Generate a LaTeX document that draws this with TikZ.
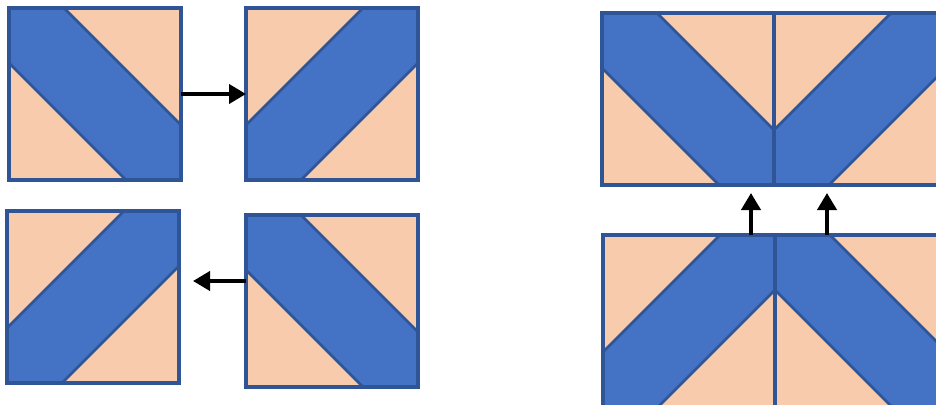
\documentclass[tikz,border=0pt]{standalone}
\usepackage{tikz}
\usetikzlibrary{arrows.meta,calc}
\definecolor{tileBlue}{HTML}{4472C4}
\definecolor{tileEdge}{HTML}{2F5597}
\definecolor{tilePeach}{HTML}{F8CBAD}
\tikzset{
  tile/.style={draw=tileEdge,fill=tilePeach,line width=3pt,minimum size=172pt,
               inner sep=0pt,outer sep=0pt},
  band/.style={fill=tileBlue,draw=tileEdge,line width=2.5pt,line join=round},
  arr/.style={line width=4pt,-{Triangle[length=17pt,width=19pt]}},
}
% #1 name, #2 left, #3 top, #4 0 = band falls to the right, 1 = band rises
\newcommand{\qtile}[4]{%
  \node[tile] (#1) at ({#2+86},{#3+86}) {};
  \begin{scope}[shift={(#1.north west)}]
    \ifnum#4=0
      \draw[band] (0,0) -- (55,0) -- (172,117) -- (172,172) -- (117,172) -- (0,55) -- cycle;
    \else
      \draw[band] (0,172) -- (0,117) -- (117,0) -- (172,0) -- (172,55) -- (55,172) -- cycle;
    \fi
  \end{scope}
  \draw[tileEdge,line width=3.5pt] (#1.north west) rectangle (#1.south east);
}

\begin{document}
\begin{tikzpicture}[x=1pt,y=-1pt]
\useasboundingbox (0,0) rectangle (936,404);
\clip (0,0) rectangle (936,404);

\qtile{l1}{9}{8}{0}
\qtile{l2}{246}{8}{1}
\qtile{l3}{7}{211}{1}
\qtile{l4}{246}{215}{0}

\qtile{rt1}{602}{13}{0}
\qtile{rt2}{774}{13}{1}
\qtile{rb1}{603}{235}{1}
\qtile{rb2}{775}{235}{0}

\draw[arr] (l1.east) -- (l2.west);
\coordinate (back) at ([yshift=20pt]l4.west);
\draw[arr,shorten >=14pt] (back) -- (back -| l3.east);

\coordinate (up1) at ([xshift=62pt]rb1.north);
\coordinate (up2) at ([xshift=-34pt]rb2.north);
\draw[arr,shorten >=8pt] (up1) -- (up1 |- rt1.south);
\draw[arr,shorten >=8pt] (up2) -- (up2 |- rt2.south);
\end{tikzpicture}
\end{document}
